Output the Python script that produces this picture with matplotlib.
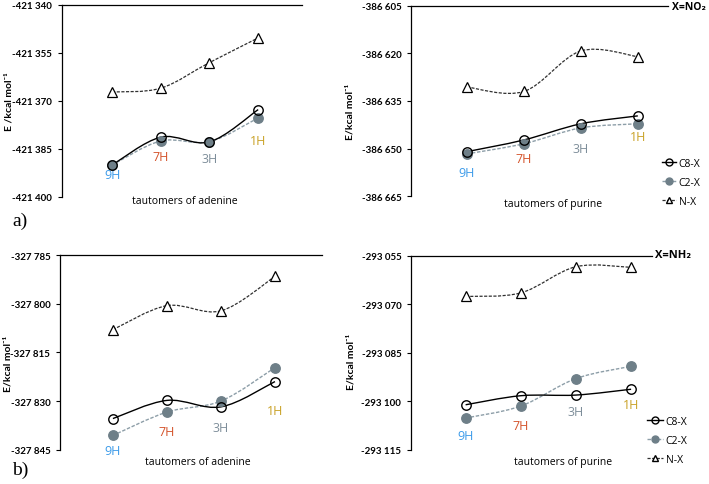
import numpy as np
import matplotlib.pyplot as plt
from matplotlib.path import Path
from matplotlib.patches import PathPatch
from matplotlib.lines import Line2D
from matplotlib.ticker import FuncFormatter

plt.rcParams['font.family'] = ['Open Sans', 'DejaVu Sans']
NARROW = ['Lato', 'DejaVu Sans']

tautomers = ['9H', '7H', '3H', '1H']
tautomer_colors = ['#3d9be9', '#d4532b', '#7e8e9a', '#c9a227']
series_names = ['C8-X', 'C2-X', 'N-X']

# a) adenine, X = NO2
ade_no2_c8 = [-421390.0, -421381.3, -421382.8, -421372.7]
ade_no2_c2 = [-421390.0, -421382.5, -421382.7, -421375.3]
ade_no2_n = [-421367.2, -421366.0, -421358.0, -421350.3]
ade_no2_lab = [-421393.1, -421387.2, -421388.1, -421382.5]

# a) purine, X = NO2
pur_no2_c8 = [-386651.0, -386647.3, -386642.2, -386639.7]
pur_no2_c2 = [-386651.7, -386648.5, -386643.5, -386642.2]
pur_no2_n = [-386630.6, -386632.0, -386619.2, -386621.0]
pur_no2_lab = [-386657.7, -386653.3, -386650.1, -386646.3]

# b) adenine, X = NH2
ade_nh2_c8 = [-327835.4, -327829.8, -327831.8, -327824.0]
ade_nh2_c2 = [-327840.6, -327833.4, -327830.0, -327819.7]
ade_nh2_n = [-327808.0, -327800.6, -327802.2, -327791.6]
ade_nh2_lab = [-327845.2, -327839.3, -327838.1, -327832.8]

# b) purine, X = NH2
pur_nh2_c8 = [-293101.1, -293098.3, -293098.1, -293096.3]
pur_nh2_c2 = [-293105.2, -293101.5, -293093.0, -293089.2]
pur_nh2_n = [-293067.6, -293066.5, -293058.4, -293058.6]
pur_nh2_lab = [-293110.7, -293107.4, -293103.3, -293100.9]

C8_STYLE = dict(color='black', lw=1.0, ls='-')
C2_STYLE = dict(color='#8d9ea8', lw=1.0, ls=(0, (2.5, 1.2)))
N_STYLE = dict(color='#303030', lw=0.9, ls=(0, (2.5, 1.2)))


def smooth(ax, y, style):
    # excel-like smoothed line: bezier segments through the data points
    pts = np.column_stack([np.arange(len(y)), np.asarray(y, dtype=float)])
    n = len(pts)
    verts = [pts[0]]
    codes = [Path.MOVETO]
    for i in range(n - 1):
        p0 = pts[max(i - 1, 0)]
        p1 = pts[i]
        p2 = pts[i + 1]
        p3 = pts[min(i + 2, n - 1)]
        verts += [p1 + (p2 - p0) / 6, p2 - (p3 - p1) / 6, p2]
        codes += [Path.CURVE4] * 3
    ax.add_patch(PathPatch(Path(verts, codes), fill=False, edgecolor=style['color'],
                           lw=style['lw'], ls=style['ls'], zorder=2))


def panel(rect, c8, c2, nx, lab, ylim, xlim, ylabel, ylab_pos, xtitle, xtitle_pos):
    ax = fig.add_axes(rect)
    x = np.arange(4)
    smooth(ax, nx, N_STYLE)
    smooth(ax, c2, C2_STYLE)
    smooth(ax, c8, C8_STYLE)
    ax.plot(x, nx, ls='none', marker='^', ms=6.5, mfc='white', mec='black', mew=0.9, zorder=3)
    ax.plot(x, c2, ls='none', marker='o', ms=6.8, mfc='#6e7f88', mec='#6e7f88', zorder=3)
    ax.plot(x, c8, ls='none', marker='o', ms=6.8, mfc='none', mec='black', mew=1.0, zorder=4)
    for i in range(4):
        ax.text(x[i], lab[i], tautomers[i], color=tautomer_colors[i], fontsize=9,
                ha='center', va='center')
    ax.set_ylim(*ylim)
    ax.set_xlim(*xlim)
    ax.set_yticks(np.arange(ylim[0], ylim[1] + 1, 15))
    ax.yaxis.set_major_formatter(FuncFormatter(lambda v, p: f"{int(round(v)):,}".replace(',', ' ')))
    ax.tick_params(axis='y', length=3, width=0.8, pad=4)
    for t in ax.get_yticklabels():
        t.set_fontweight('bold')
        t.set_family(NARROW)
        t.set_fontsize(7)
    ax.set_xticks([])
    ax.spines['right'].set_visible(False)
    ax.spines['bottom'].set_visible(False)
    ax.spines['left'].set_linewidth(0.9)
    ax.spines['top'].set_linewidth(0.9)
    ax.set_ylabel(ylabel, fontsize=7.5, fontweight='bold', family=NARROW)
    ax.yaxis.set_label_coords(*ylab_pos)
    ax.text(xtitle_pos[0], xtitle_pos[1], xtitle, transform=ax.transAxes,
            ha='center', va='center', fontsize=7.5)
    return ax


fig = plt.figure(figsize=(7.09, 4.85), dpi=100)

panel([0.0874, 0.5918, 0.3385, 0.3959], ade_no2_c8, ade_no2_c2, ade_no2_n, ade_no2_lab,
      (-421400, -421340), (-1.03, 3.9), 'E /kcal mol⁻¹', (-0.202, 0.5),
      'tautomers of adenine', (0.51, -0.016))
panel([0.5797, 0.5938, 0.3625, 0.3918], pur_no2_c8, pur_no2_c2, pur_no2_n, pur_no2_lab,
      (-386665, -386605), (-0.98, 3.53), 'E/kcal mol⁻¹', (-0.218, 0.45),
      'tautomers of purine', (0.553, -0.037))
panel([0.0846, 0.0707, 0.3695, 0.4014], ade_nh2_c8, ade_nh2_c2, ade_nh2_n, ade_nh2_lab,
      (-327845, -327785), (-0.98, 3.87), 'E/kcal mol⁻¹', (-0.183, 0.448),
      'tautomers of adenine', (0.527, -0.062))
panel([0.5797, 0.0707, 0.340, 0.400], pur_nh2_c8, pur_nh2_c2, pur_nh2_n, pur_nh2_lab,
      (-293115, -293055), (-0.99, 3.38), 'E/kcal mol⁻¹', (-0.232, 0.46),
      'tautomers of purine', (0.63, -0.062))

handles = [
    Line2D([], [], marker='o', ms=5, mfc='none', mec='black', **C8_STYLE),
    Line2D([], [], marker='o', ms=5, mfc='#6e7f88', mec='#6e7f88', **C2_STYLE),
    Line2D([], [], marker='^', ms=5, mfc='white', mec='black', **N_STYLE),
]
fig.legend(handles, series_names, loc='upper left', bbox_to_anchor=(662 / 709, 1 - 159 / 485),
           frameon=False, fontsize=7.5, handlelength=1.3, handletextpad=0.3,
           labelspacing=0.75, borderpad=0, borderaxespad=0)
fig.legend(handles, series_names, loc='upper left', bbox_to_anchor=(647 / 709, 1 - 417 / 485),
           frameon=False, fontsize=7.5, handlelength=1.5, handletextpad=0.3,
           labelspacing=0.75, borderpad=0, borderaxespad=0)

fig.text(672 / 709, 1 - 7 / 485, 'X=NO₂', fontsize=7.5, fontweight='bold', va='center')
fig.text(655 / 709, 1 - 255 / 485, 'X=NH₂', fontsize=8, fontweight='bold', va='center')
fig.text(12 / 709, 1 - 221 / 485, 'a)', fontsize=14, family='Liberation Serif', va='center')
fig.text(12 / 709, 1 - 470 / 485, 'b)', fontsize=14, family='Liberation Serif', va='center')

fig.savefig('out.png', dpi=100)
